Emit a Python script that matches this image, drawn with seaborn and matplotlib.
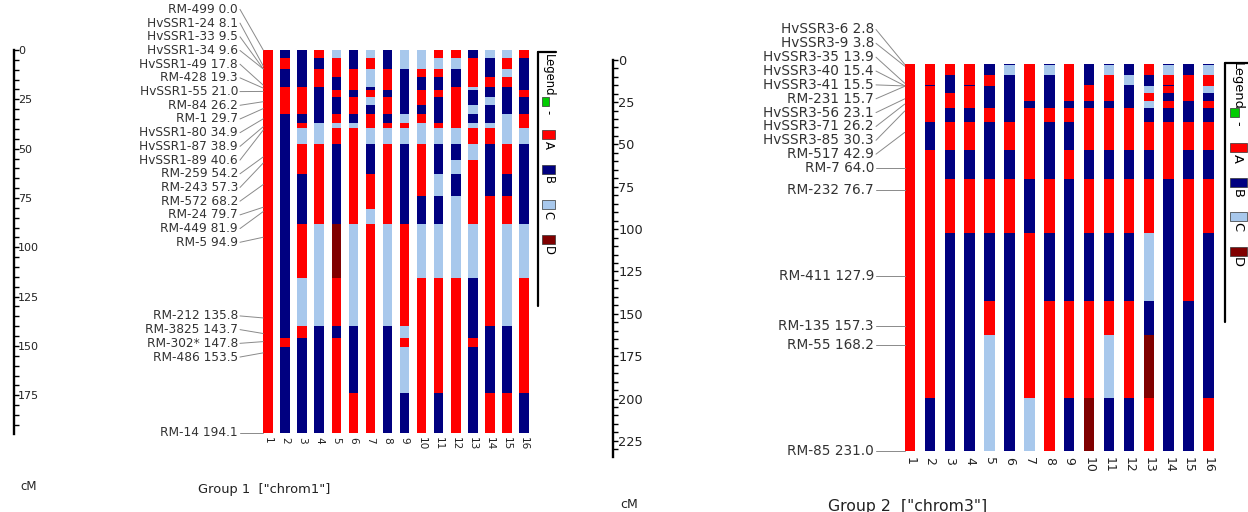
import numpy as np
import pandas as pd
import seaborn as sns
import matplotlib.pyplot as plt
from matplotlib.patches import Rectangle
from matplotlib.ticker import MultipleLocator

sns.set_theme(style="white")
plt.rcParams['font.family'] = ['DejaVu Sans']

# ---------------- data ----------------
lines = list(range(1, 17))

# Group 1 ["chrom1"]
chr1_markers = ["RM-499", "HvSSR1-24", "HvSSR1-33", "HvSSR1-34", "HvSSR1-49", "RM-428",
                "HvSSR1-55", "RM-84", "RM-1", "HvSSR1-80", "HvSSR1-87", "HvSSR1-89",
                "RM-259", "RM-243", "RM-572", "RM-24", "RM-449", "RM-5",
                "RM-212", "RM-3825", "RM-302*", "RM-486", "RM-14"]
chr1_cm = [0.0, 8.1, 9.5, 9.6, 17.8, 19.3, 21.0, 26.2, 29.7, 34.9, 38.9, 40.6,
           54.2, 57.3, 68.2, 79.7, 81.9, 94.9, 135.8, 143.7, 147.8, 153.5, 194.1]
# one string per line, one genotype letter per marker
chr1_geno = ["AAAAAAAAAAAAAAAAAAAAAAA",
             "BAABBAAAABBBBBBBBBBBABB",
             "BBBBBAAAABACAABBBACABBB",
             "ABBAABBBBBCCAAAAACCBBBB",
             "CAAABBABBACABBBBBDABAAA",
             "BBBAAABAABCAAAAAACCBBBA",
             "CAACCBACBAACBBAACAAAAAA",
             "BBBAAABAABACAAAAACCBBBB",
             "CCCBBBBBBCACBBBBBAACACB",
             "CCCABBAABACCAAABBCAAAAA",
             "ACCABBABBBACBBCBBCAAAAB",
             "ACCBBAAAAAACBCBCCCAAAAA",
             "BAAAACBBCBCACAAAACBBABB",
             "CBBBABBCBBCABBBAAAABBBA",
             "CAACABBBBCCCAABAACCBBBA",
             "ABBBBBABBAACBBBBBCAAAAB"]

# Group 2 ["chrom3"]
chr3_markers = ["HvSSR3-6", "HvSSR3-9", "HvSSR3-35", "HvSSR3-40", "HvSSR3-41", "RM-231",
                "HvSSR3-56", "HvSSR3-71", "HvSSR3-85", "RM-517", "RM-7", "RM-232",
                "RM-411", "RM-135", "RM-55", "RM-85"]
chr3_cm = [2.8, 3.8, 13.9, 15.4, 15.5, 15.7, 23.1, 26.2, 30.3, 42.9, 64.0, 76.7,
           127.9, 157.3, 168.2, 231.0]
chr3_geno = ["AAAAAAAAAAAAAAAA",
             "AAABAAAAABAAAAAB",
             "AABBBBAABABABBBB",
             "AAABAAAABABABBBB",
             "BBAAABBBABBABACC",
             "BCBBBBBBBABABBBB",
             "AAAAAAABAAABAAAC",
             "BCBBBBBBABBABAAA",
             "AAAAAAABABABBAAB",
             "BBBAAAABAABABAAD",
             "BCAAAAABAABABACB",
             "BBCBBBBBAABABAAB",
             "AABBBCACBABACBDA",
             "BCABAABABAABBBBB",
             "BBAAAAABBABAABBB",
             "BCAAACBABABABBBA"]

legend_keys = ["-", "A", "B", "C", "D"]
geno_colors = {"-": "#00cc00", "A": "#ff0000", "B": "#000080",
               "C": "#a8c8ec", "D": "#800000"}

# ---------------- layout (pixels) ----------------
W, H = 1248, 512
fig = plt.figure(figsize=(W / 100, H / 100), dpi=100)


def px_axes(x0, y0, x1, y1):
    ax = fig.add_axes([x0 / W, 1 - y1 / H, (x1 - x0) / W, (y1 - y0) / H])
    ax.set_facecolor('none')
    return ax


overlay = px_axes(0, 0, W, H)
overlay.set_xlim(0, W)
overlay.set_ylim(H, 0)
overlay.axis('off')

panels = [
    dict(markers=chr1_markers, cm=chr1_cm, geno=chr1_geno,
         left=0, right=560, top=50.0, scale=1.973, ruler_max=194.6,
         first=268.0, step=17.07, bar_w=0.56, lab_right=238, con0=240,
         gap=13.7, lab_fs=8.7, tick_fs=7.6, xpad=2.2,
         ruler_x=13.8, ruler_fs=8.0, ruler_pad=2.5, ruler_lw=1.7,
         title='Group 1  ["chrom1"]', title_xy=(198, 490), title_fs=9.4,
         cm_xy=(20, 487), cm_fs=8.5,
         frame_x=538, frame_y=(52, 306), frame_r=556,
         leg_title_y=75, leg_fs=8.4, leg_x=542, leg_w=13, leg_h=9,
         leg_y=[97, 130, 165, 200, 235]),
    dict(markers=chr3_markers, cm=chr3_cm, geno=chr3_geno,
         left=600, right=1248, top=59.7, scale=1.694, ruler_max=234.4,
         first=910.0, step=19.9, bar_w=0.53, lab_right=874, con0=876,
         gap=13.85, lab_fs=9.8, tick_fs=9.0, xpad=0.3,
         ruler_x=612.8, ruler_fs=9.3, ruler_pad=3.2, ruler_lw=1.7,
         title='Group 2  ["chrom3"]', title_xy=(828, 506), title_fs=11.3,
         cm_xy=(620, 505), cm_fs=9.0,
         frame_x=1225, frame_y=(63, 322), frame_r=1248,
         leg_title_y=86, leg_fs=9.4, leg_x=1230, leg_w=17, leg_h=9,
         leg_y=[108, 143, 178, 212, 247]),
]


def spread(vals, gap):
    # keep labels in order, at least `gap` apart, as close as possible to their markers
    groups = []
    for i, v in enumerate(vals):
        groups.append([i, 1, v])
        while len(groups) > 1:
            s0, n0, t0 = groups[-2]
            s1, n1, t1 = groups[-1]
            if t1 / n1 < t0 / n0 + n0 * gap:
                groups[-2] = [s0, n0 + n1, t0 + t1 - n0 * n1 * gap]
                groups.pop()
            else:
                break
    out = []
    for s, n, t in groups:
        out += [t / n + k * gap for k in range(n)]
    return out


for p in panels:
    cm = np.array(p['cm'])
    x_of = lambda px, p=p: 1 + (px - p['first']) / p['step']

    ax = px_axes(p['left'], p['top'], p['right'], p['top'] + p['ruler_max'] * p['scale'])
    ax.set_xlim(x_of(p['left']), x_of(p['right']))
    ax.set_ylim(p['ruler_max'], 0)

    # graphical genotype bars: segments end halfway between markers
    bounds = np.concatenate([[cm[0]], (cm[:-1] + cm[1:]) / 2, [cm[-1]]])
    rows = []
    for line, g in zip(lines, p['geno']):
        start = 0
        for j in range(1, len(g) + 1):
            if j == len(g) or g[j] != g[start]:
                rows.append((line, bounds[start], bounds[j], g[start]))
                start = j
    seg = pd.DataFrame(rows, columns=['line', 'lo', 'hi', 'geno'])
    ax.bar(seg['line'], seg['hi'] - seg['lo'], bottom=seg['lo'], width=p['bar_w'],
           color=[geno_colors[k] for k in seg['geno']], linewidth=0)

    ax.set_xticks(lines)
    ax.set_xticklabels([str(l) for l in lines], rotation=270, fontsize=p['tick_fs'],
                       color='#222222')
    ax.tick_params(axis='x', length=0, pad=p['xpad'])
    ax.set_yticks([])
    for s in ax.spines.values():
        s.set_visible(False)

    # marker names with leader lines
    lab_y = spread(list(cm), p['gap'] / p['scale'])
    xl = x_of(p['lab_right'])
    xc0 = x_of(p['con0'])
    xc1 = 1 - p['bar_w'] / 2
    for name, c, ly in zip(p['markers'], cm, lab_y):
        ax.text(xl, ly, f"{name} {c:.1f}", ha='right', va='center',
                fontsize=p['lab_fs'], color='#333333')
        ax.plot([xc0, xc1], [ly, c], color='#8a8a8a', lw=0.7, clip_on=False)

    # cM ruler
    rx = px_axes(p['ruler_x'], p['top'], p['ruler_x'] + 1,
                 p['top'] + p['ruler_max'] * p['scale'])
    rx.set_ylim(p['ruler_max'], 0)
    rx.set_xticks([])
    for k, s in rx.spines.items():
        s.set_visible(k == 'left')
    rx.spines['left'].set_color('black')
    rx.spines['left'].set_linewidth(p['ruler_lw'])
    rx.yaxis.set_major_locator(MultipleLocator(25))
    rx.yaxis.set_minor_locator(MultipleLocator(5))
    rx.tick_params(axis='y', which='both', left=True, right=False, labelleft=False,
                   labelright=True, direction='in', length=3.6, width=1.0,
                   color='black', labelsize=p['ruler_fs'], labelcolor='#222222',
                   pad=p['ruler_pad'])

    # titles
    overlay.text(*p['title_xy'], p['title'], ha='left', va='center',
                 fontsize=p['title_fs'], color='#222222')
    overlay.text(*p['cm_xy'], 'cM', ha='left', va='center',
                 fontsize=p['cm_fs'], color='#222222')

    # legend (drawn rotated like the original)
    fx = p['frame_x']
    overlay.plot([fx, fx], list(p['frame_y']), color='black', lw=1.6)
    overlay.plot([fx, p['frame_r']], [p['frame_y'][0]] * 2, color='black', lw=1.6)
    mid = fx + (p['frame_r'] - fx) / 2 + 1
    overlay.text(mid, p['leg_title_y'], 'Legend', rotation=270, ha='center',
                 va='center', fontsize=p['leg_fs'], color='black')
    for key, y0 in zip(legend_keys, p['leg_y']):
        w = p['leg_w'] * (0.5 if key == '-' else 1)
        overlay.add_patch(Rectangle((p['leg_x'], y0), w, p['leg_h'],
                                    facecolor=geno_colors[key], edgecolor='#333333', lw=0.5))
        overlay.text(mid, y0 + p['leg_h'] + 6, key, rotation=270, ha='center',
                     va='center', fontsize=p['leg_fs'], color='black')

fig.savefig('out.png', dpi=100, facecolor='white')
